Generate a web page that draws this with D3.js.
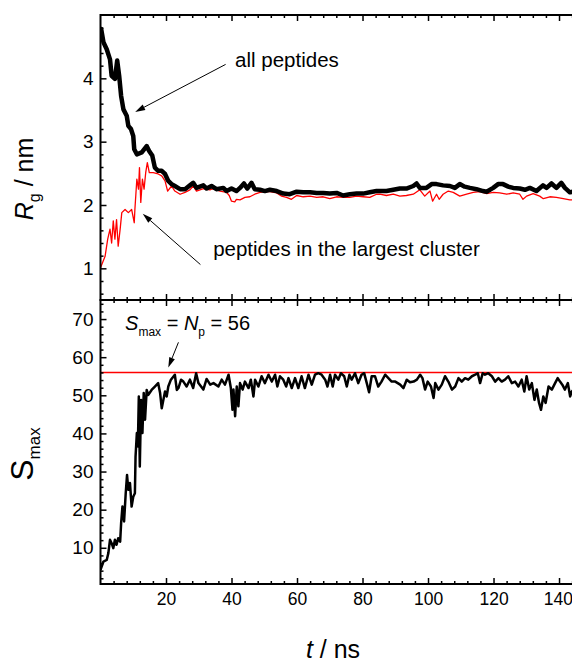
<!DOCTYPE html>
<html>
<head>
<meta charset="utf-8">
<script src="https://cdn.jsdelivr.net/npm/d3@7"></script>
<style>
body { margin: 0; background: #fff; }
text { font-family: "Liberation Sans", Arial, sans-serif; fill: #000; }
.tick line { stroke: #000; stroke-width: 1.5; }
.tick text { font-size: 19px; }
.xlab .tick text { font-size: 17.5px; }
</style>
</head>
<body>
<svg id="chart" width="572" height="662"></svg>
<script>
// Rg of all peptides (thick black)
const rgAllT = [0,0.2,0.9,1.9,2.9,3.4,4.4,5.1,5.7,6.3,7.0,8.0,8.5,9.3,10.0,10.3,11.1,12.6,14.1,14.9,
  15.8,16.6,17.6,18.7,19.7,20.7,21.7,22.7,24.3,25.8,
  27.3,28.3,29.3,31.4,32.4,33.9,35.4,37.5,38.5,40.0,41.5,42.6,43.8,44.8,46.1,47.1,48.7,50.2,51.7,53.8,
  55.8,57.8,59.9,61.9,64.0,66.0,68.0,70.0,72.1,74.1,76.1,78.2,80.2,82.2,84.3,
  85.3,87.3,89.4,91.4,93.4,95.5,96.5,97.5,99.5,101.1,102.6,104.6,106.7,108.2,109.7,111.2,112.8,114.8,116.8,117.9,
  119.9,121.4,122.9,124.5,126.0,128.0,129.6,131.1,133.1,135.1,136.2,137.7,139.2,140.7,141.8,143.3,145];
const rgAllV = [4.70,4.78,4.57,4.46,4.30,4.04,3.99,4.28,4.04,3.72,3.51,3.41,3.25,3.20,3.09,2.88,2.80,2.83,2.93,2.85,
  2.78,2.59,2.54,2.54,2.49,2.38,2.33,2.30,2.25,2.25,
  2.31,2.35,2.27,2.31,2.26,2.30,2.25,2.27,2.22,2.26,2.22,2.27,2.34,2.26,2.35,2.25,2.24,2.22,2.24,2.22,
  2.18,2.17,2.21,2.20,2.20,2.19,2.19,2.18,2.19,2.15,2.17,2.18,2.18,2.20,2.22,
  2.22,2.22,2.24,2.26,2.26,2.30,2.34,2.27,2.27,2.33,2.33,2.31,2.30,2.27,2.33,2.29,2.27,2.25,2.22,2.21,
  2.27,2.33,2.33,2.29,2.27,2.26,2.24,2.27,2.22,2.31,2.27,2.34,2.27,2.35,2.27,2.20,2.22];

// Rg of peptides in the largest cluster (thin red)
const rgClusterT = [0,1.4,2.2,2.9,3.4,3.9,4.4,4.9,5.4,6.0,6.5,7.5,8.5,9.5,10.3,10.5,11.1,11.6,11.9,12.3,
  12.8,13.3,13.8,14.3,14.9,16.1,17.6,18.7,19.7,20.5,21.7,22.7,24.3,25.8,
  27.3,28.3,29.3,31.4,33.4,34.4,36.5,38.5,39.3,40.0,41.0,41.5,42.6,44.1,45.6,47.1,48.7,50.2,51.7,53.8,
  55.3,56.8,58.3,59.9,61.9,64.0,66.0,68.0,70.0,72.1,74.1,76.1,78.2,80.2,82.2,84.3,
  85.3,87.3,89.4,91.4,93.4,95.5,97.5,99.0,100.6,101.4,102.6,103.4,104.6,106.2,107.7,109.7,111.8,113.8,115.8,117.9,
  119.9,121.9,124.0,126.0,128.0,129.0,130.1,132.1,134.1,135.2,137.2,139.2,141.3,143.3,145];
const rgClusterV = [1.01,1.19,1.46,1.62,1.40,1.75,1.46,1.77,1.35,1.62,1.88,1.93,1.88,1.93,1.72,1.93,2.41,2.25,2.59,2.04,
  2.41,2.25,2.51,2.67,2.51,2.51,2.49,2.46,2.38,2.22,2.30,2.22,2.17,2.20,
  2.24,2.30,2.22,2.26,2.24,2.26,2.22,2.20,2.15,2.06,2.05,2.09,2.08,2.12,2.13,2.17,2.20,2.21,2.21,2.19,
  2.14,2.12,2.09,2.15,2.13,2.14,2.12,2.13,2.10,2.13,2.12,2.12,2.14,2.13,2.12,2.17,
  2.17,2.15,2.17,2.14,2.15,2.17,2.24,2.14,2.22,2.06,2.17,2.09,2.17,2.22,2.20,2.14,2.17,2.20,2.21,2.18,
  2.20,2.19,2.17,2.19,2.17,2.09,2.14,2.18,2.14,2.10,2.13,2.12,2.10,2.08,2.08];

// size of the largest cluster
const smaxT = [0,0.9,1.9,2.4,2.9,3.4,3.9,4.4,4.9,5.4,6.0,6.3,6.7,7.2,7.7,8.1,8.5,9.0,9.5,10.0,
  10.5,10.7,11.1,11.4,11.7,12.0,12.4,12.8,13.2,13.6,14.1,14.6,15.6,16.6,17.6,18.2,18.7,19.2,19.7,20.2,
  20.7,21.5,22.7,23.3,23.8,24.6,25.3,26.3,27.3,28.3,29.2,29.9,
  31.4,32.4,33.5,34.5,36.0,37.0,38.0,39.1,39.8,40.3,40.6,41.1,41.6,42.1,42.6,43.4,44.1,45.2,45.9,46.7,
  47.2,48.2,49.2,50.2,51.3,52.3,53.3,54.0,54.8,55.8,56.7,57.4,58.4,59.4,60.4,61.4,62.4,63.5,64.5,65.5,
  66.5,67.5,68.6,69.3,70.1,70.9,71.6,72.6,73.4,74.4,75.2,76.0,76.7,77.7,78.7,79.7,80.5,81.3,82.0,82.8,
  83.8,84.8,85.8,86.9,
  87.9,88.9,90.0,91.5,92.5,93.5,94.5,95.6,96.6,97.6,98.3,99.1,99.9,100.9,101.7,102.2,103.2,104.2,105.2,106.2,
  107.3,108.3,109.3,110.3,111.3,112.3,113.4,114.4,115.2,115.9,116.7,117.4,118.4,119.5,120.5,121.5,122.5,123.5,124.5,125.6,
  126.6,127.6,128.6,129.4,130.1,130.9,131.7,132.5,133.2,133.9,134.5,135.2,135.9,136.8,137.8,138.8,139.6,140.3,141.0,141.8,
  142.7,143.4,143.9,145];
const smaxV = [4.2,6.4,6.8,8.6,12.1,11.2,9.9,12.1,10.8,12.5,11.6,16.5,20.8,16.9,24.3,29.1,25.2,27.0,20.8,23.4,
  24.3,33.9,40.1,36.6,49.7,31.3,48.8,40.1,50.6,43.6,51.4,50.1,51.4,52.3,53.2,50.6,46.6,48.8,51.0,49.7,
  52.3,54.1,55.4,51.4,51.9,54.1,53.6,52.3,54.1,51.9,55.8,53.2,
  51.5,54.3,52.8,53.2,52.3,54.1,52.8,55.4,51.9,46.2,51.5,44.5,52.3,47.1,53.2,51.5,53.6,51.9,54.1,49.7,
  54.1,52.3,55.0,53.2,55.4,53.6,55.4,52.3,55.0,54.1,52.3,54.5,51.9,54.5,51.9,55.0,51.9,55.4,52.8,55.4,
  55.8,55.4,54.1,52.3,55.4,52.3,55.4,54.1,55.8,55.0,52.3,55.4,54.1,55.8,53.2,55.4,55.8,53.2,50.8,55.0,
  55.0,52.3,53.6,55.4,
  54.5,53.6,53.6,52.8,51.9,54.1,53.4,53.6,54.1,55.4,54.5,51.5,53.6,52.3,49.3,53.2,51.5,52.8,55.0,53.6,
  51.5,52.3,54.5,53.6,54.5,54.1,55.0,55.4,55.8,53.2,55.8,55.4,55.8,55.0,53.6,54.5,53.6,54.1,55.0,53.2,
  53.6,52.3,54.1,51.0,55.0,51.5,53.2,48.8,51.5,48.0,46.2,49.7,48.0,52.3,51.5,53.2,54.5,53.6,52.8,51.5,
  53.2,49.7,51.0,52.0];

const npLevel = 56;

// ticks
const xMajor = [20, 40, 60, 80, 100, 120, 140];
const topMajor = [1, 2, 3, 4];
const botMajor = [10, 20, 30, 40, 50, 60, 70];

const svg = d3.select('#chart');
const x = d3.scaleLinear().domain([0, 145]).range([100.5, 575.4]);
const yTop = d3.scaleLinear().domain([0.5, 5]).range([300, 15]);
const yBot = d3.scaleLinear().domain([0.5, 75]).range([584, 300]);

const xMinor = d3.range(4, 145, 4).filter(v => v % 20 !== 0);
const topMinor = d3.range(6, 50, 2).map(v => v / 10).filter(v => !Number.isInteger(v));
const botMinor = d3.range(2, 76, 2).filter(v => v % 10 !== 0);

const defs = svg.append('defs');
defs.append('clipPath').attr('id', 'clipTop').append('rect')
  .attr('x', x.range()[0]).attr('y', yTop.range()[1])
  .attr('width', x.range()[1] - x.range()[0]).attr('height', yTop.range()[0] - yTop.range()[1]);
defs.append('clipPath').attr('id', 'clipBot').append('rect')
  .attr('x', x.range()[0]).attr('y', yBot.range()[1])
  .attr('width', x.range()[1] - x.range()[0]).attr('height', yBot.range()[0] - yBot.range()[1]);

function zip(ts, vs) { return ts.map((t, i) => [t, vs[i]]); }

function drawAxes(y, yMaj, yMin, labelsX) {
  const g = svg.append('g');
  const x0 = x.range()[0];
  const yB = y.range()[0], yT = y.range()[1];
  g.append('g').attr('transform', `translate(${x0},0)`)
    .call(d3.axisLeft(y).tickValues(yMaj).tickSize(-6).tickPadding(7).tickFormat(d3.format('d')));
  g.append('g').attr('transform', `translate(${x0},0)`)
    .call(d3.axisLeft(y).tickValues(yMin).tickSize(-3).tickFormat(''));
  g.append('g').attr('transform', `translate(0,${yT})`)
    .call(d3.axisTop(x).tickValues(xMajor).tickSize(-6).tickFormat(''));
  g.append('g').attr('transform', `translate(0,${yT})`)
    .call(d3.axisTop(x).tickValues(xMinor).tickSize(-3).tickFormat(''));
  const xb = g.append('g').attr('class', 'xlab').attr('transform', `translate(0,${yB})`)
    .call(d3.axisBottom(x).tickValues(xMajor).tickSize(-6).tickPadding(9)
      .tickFormat(labelsX ? d3.format('d') : ''));
  // the last label sits at the window edge; keep it inside
  xb.selectAll('.tick text').filter(d => d === 140).attr('text-anchor', 'end').attr('dx', 13.5);
  g.append('g').attr('transform', `translate(0,${yB})`)
    .call(d3.axisBottom(x).tickValues(xMinor).tickSize(-3).tickFormat(''));
  g.selectAll('.domain').remove();
  g.selectAll('.tick text').attr('fill', '#000');
  g.append('rect')
    .attr('x', x0).attr('y', yT)
    .attr('width', x.range()[1] - x0).attr('height', yB - yT)
    .attr('fill', 'none').attr('stroke', '#000').attr('stroke-width', 2);
}

// top panel curves
const lineTop = d3.line().x(d => x(d[0])).y(d => yTop(d[1]));
const topG = svg.append('g').attr('clip-path', 'url(#clipTop)');
topG.append('path').datum(zip(rgClusterT, rgClusterV))
  .attr('d', lineTop).attr('fill', 'none').attr('stroke', '#ff0000')
  .attr('stroke-width', 1.3).attr('stroke-linejoin', 'round');
topG.append('path').datum(zip(rgAllT, rgAllV))
  .attr('d', lineTop).attr('fill', 'none').attr('stroke', '#000')
  .attr('stroke-width', 4.5).attr('stroke-linejoin', 'round');

// bottom panel curves
const lineBot = d3.line().x(d => x(d[0])).y(d => yBot(d[1]));
const botG = svg.append('g').attr('clip-path', 'url(#clipBot)');
botG.append('line')
  .attr('x1', x.range()[0]).attr('x2', x.range()[1])
  .attr('y1', yBot(npLevel)).attr('y2', yBot(npLevel))
  .attr('stroke', '#ff0000').attr('stroke-width', 1.5);
botG.append('path').datum(zip(smaxT, smaxV))
  .attr('d', lineBot).attr('fill', 'none').attr('stroke', '#000')
  .attr('stroke-width', 2.5).attr('stroke-linejoin', 'round');

drawAxes(yTop, topMajor, topMinor, false);
drawAxes(yBot, botMajor, botMinor, true);

// annotations with arrows
function arrow(y, t1, v1, t2, v2) {
  const xa = x(t1), ya = y(v1), xb = x(t2), yb = y(v2);
  const ang = Math.atan2(yb - ya, xb - xa);
  const L = 10, W = 3;
  const bx = xb - L * Math.cos(ang), by = yb - L * Math.sin(ang);
  svg.append('line').attr('x1', xa).attr('y1', ya).attr('x2', bx).attr('y2', by)
    .attr('stroke', '#000').attr('stroke-width', 1);
  svg.append('path')
    .attr('d', `M${xb},${yb}L${bx - W * Math.sin(ang)},${by + W * Math.cos(ang)}L${bx + W * Math.sin(ang)},${by - W * Math.cos(ang)}Z`)
    .attr('fill', '#000');
}

svg.append('text').attr('x', x(41.1)).attr('y', yTop(4.18))
  .attr('font-size', 20.5).text('all peptides');
arrow(yTop, 38.2, 4.22, 10.6, 3.47);

svg.append('text').attr('x', x(34.4)).attr('y', yTop(1.19))
  .attr('font-size', 20.5).text('peptides in the largest cluster');
arrow(yTop, 30.5, 1.06, 12.9, 1.86);

const ann = svg.append('text').attr('x', x(7.5)).attr('y', yBot(67.2)).attr('font-size', 20);
ann.append('tspan').attr('font-style', 'italic').text('S');
ann.append('tspan').attr('font-size', 12).attr('dy', 6).text('max');
ann.append('tspan').attr('dy', -6).text(' = ');
ann.append('tspan').attr('font-style', 'italic').text('N');
ann.append('tspan').attr('font-size', 12).attr('dy', 6).text('p');
ann.append('tspan').attr('dy', -6).text(' = 56');
arrow(yBot, 23.8, 63.9, 20.7, 57.3);

// axis titles
const yt1 = svg.append('text').attr('transform', 'translate(33,179) rotate(-90)')
  .attr('text-anchor', 'middle').attr('font-size', 25);
yt1.append('tspan').attr('font-style', 'italic').text('R');
yt1.append('tspan').attr('font-size', 16).attr('dy', 7).text('g');
yt1.append('tspan').attr('dy', -7).text(' / nm');

const yt2 = svg.append('text').attr('transform', 'translate(33,454) rotate(-90)')
  .attr('text-anchor', 'middle').attr('font-size', 32);
yt2.append('tspan').text('S');
yt2.append('tspan').attr('font-size', 17).attr('dy', 7).text('max');

const xt = svg.append('text').attr('x', 333).attr('y', 658)
  .attr('text-anchor', 'middle').attr('font-size', 25);
xt.append('tspan').attr('font-style', 'italic').text('t');
xt.append('tspan').text(' / ns');
</script>
</body>
</html>
